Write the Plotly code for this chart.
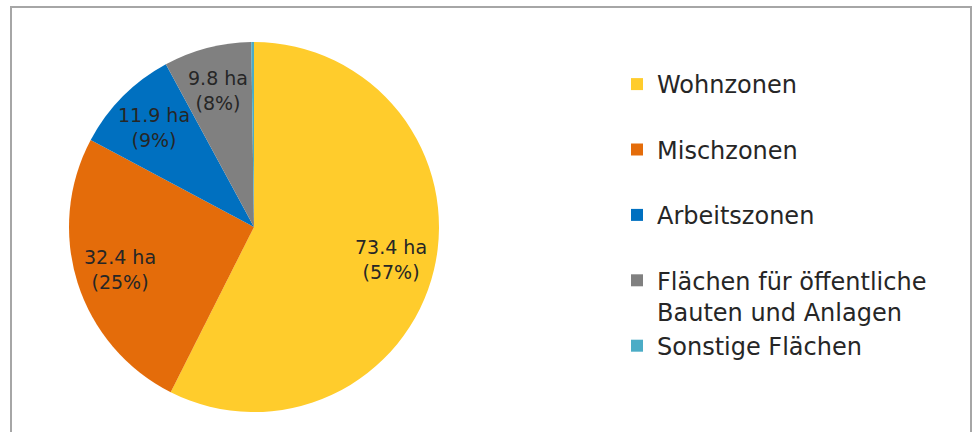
import math
import plotly.graph_objects as go

categories = ["Wohnzonen", "Mischzonen", "Arbeitszonen",
              "Flächen für öffentliche<br>Bauten und Anlagen", "Sonstige Flächen"]
values_ha = [73.4, 32.4, 11.9, 9.8, 0.3]
pct_labels = ["57%", "25%", "9%", "8%", ""]
colors = ["#FFCC2C", "#E46C0A", "#0070C0", "#808080", "#4BACC6"]

# legend labels: pad single-line entries to two lines for even spacing
legend_labels = [c if "<br>" in c else c + "<br> " for c in categories]

W, H = 975, 432
cx, cy, r = 254, 227, 185

fig = go.Figure(go.Pie(
    labels=legend_labels,
    values=values_ha,
    textinfo="none",
    sort=False,
    direction="clockwise",
    rotation=0,
    marker=dict(colors=colors, line=dict(width=0)),
    domain=dict(x=[(cx - r) / W, (cx + r) / W], y=[1 - (cy + r) / H, 1 - (cy - r) / H]),
    hoverinfo="skip",
))

# data labels placed on each slice bisector (derived from the values)
total = sum(values_ha)
cum = 0.0
for v, p in zip(values_ha, pct_labels):
    mid = (cum + v / 2) / total * 2 * math.pi
    cum += v
    if not p:
        continue
    d = 0.76 * r
    x = cx + d * math.sin(mid)
    y = cy - d * math.cos(mid)
    fig.add_annotation(x=x / W, y=1 - y / H, xref="paper", yref="paper",
                       text=f"{v} ha<br>({p})", showarrow=False,
                       font=dict(family="DejaVu Sans", size=19, color="#262626"),
                       xanchor="center", yanchor="middle")

fig.add_shape(type="rect", xref="paper", yref="paper",
              x0=11 / W, x1=971 / W, y0=-0.1, y1=1 - 7 / H,
              line=dict(color="#A6A6A6", width=2), fillcolor="rgba(0,0,0,0)", layer="below")

fig.update_layout(
    width=W, height=H,
    margin=dict(l=0, r=0, t=0, b=0),
    paper_bgcolor="white",
    plot_bgcolor="white",
    showlegend=True,
    legend=dict(x=617 / W, y=1 - 62 / H, xanchor="left", yanchor="top",
                valign="top", font=dict(family="DejaVu Sans", size=24, color="#262626"),
                itemwidth=30, tracegroupgap=0, bgcolor="rgba(0,0,0,0)"),
)

fig.write_html("out.html", config={"displayModeBar": False},
               post_script="document.body.style.margin='0';")
